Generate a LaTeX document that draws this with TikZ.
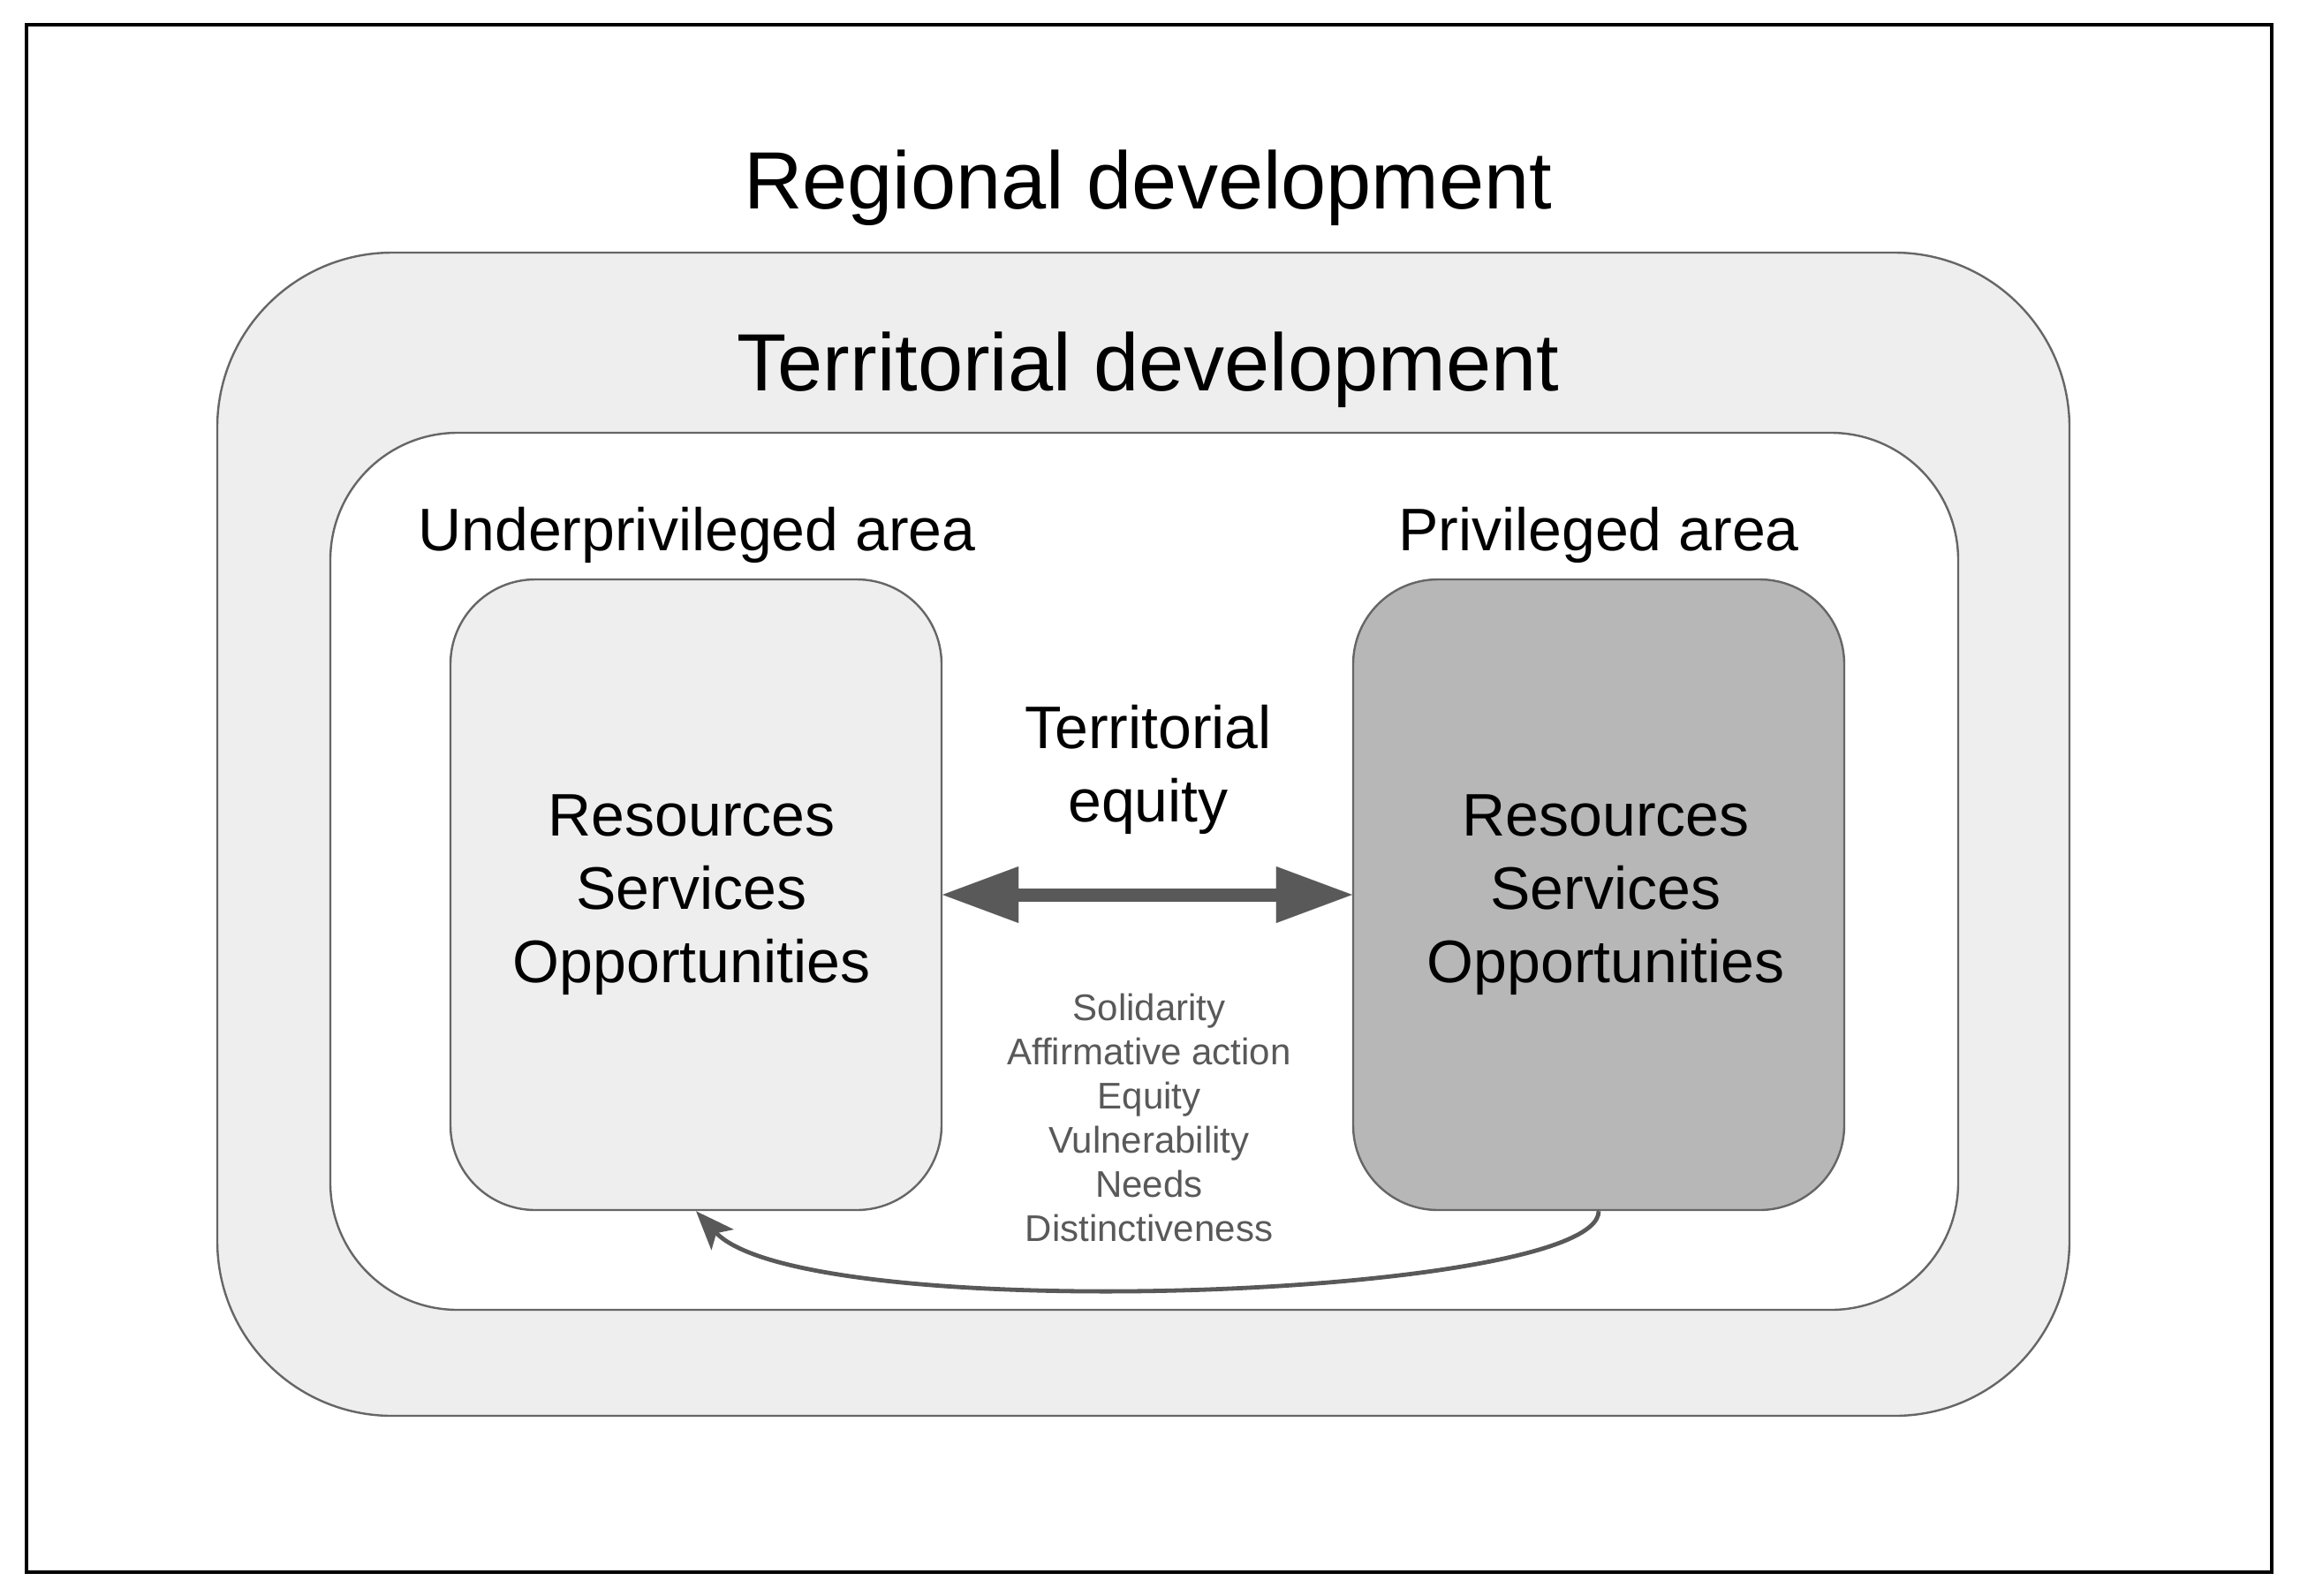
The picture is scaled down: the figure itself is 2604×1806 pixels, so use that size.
\documentclass[tikz,border=0pt]{standalone}
\usepackage{fontspec}
\setmainfont{Liberation Sans}
\usetikzlibrary{arrows.meta}
\definecolor{lgray}{HTML}{EEEEEE}
\definecolor{dgray}{HTML}{B7B7B7}
\definecolor{edgec}{HTML}{666666}
\definecolor{arrowc}{HTML}{595959}
\begin{document}
\begin{tikzpicture}[x=0.5pt,y=-0.5pt,
  framebox/.style={draw=black, line width=1.8pt, inner sep=0pt, minimum width=1271pt, minimum height=876pt},
  terrbox/.style={draw=edgec, fill=lgray, line width=1.2pt, rounded corners=99pt, inner sep=0pt, minimum width=1048.5pt, minimum height=658.5pt},
  innerbox/.style={draw=edgec, fill=white, line width=1.2pt, rounded corners=72pt, inner sep=0pt, minimum width=921.5pt, minimum height=496.5pt},
  areabox/.style={draw=edgec, line width=1.2pt, rounded corners=48pt, inner sep=0pt, minimum width=278pt, minimum height=357pt},
  bigtitle/.style={anchor=base, font=\fontsize{46}{55}\selectfont},
  midtext/.style={font=\fontsize{34}{41.5}\selectfont},
  smalltext/.style={align=center, text=arrowc, font=\fontsize{21}{25}\selectfont},
  dblarrow/.style={draw=arrowc, line width=7.5pt, {Triangle[length=43pt,width=32pt,line width=0.01pt]}-{Triangle[length=43pt,width=32pt,line width=0.01pt]}},
  curvearrow/.style={draw=arrowc, line width=2.4pt, -{Stealth[length=22pt,width=17pt,inset=5pt]}}
]
\useasboundingbox (0,0) rectangle (2604,1806);
\node[framebox] (frame) at (1301,904) {};
\node[terrbox] (terr) at (1294.5,944.5) {};
\node[innerbox] (inner) at (1295.5,986.5) {};
\node[areabox, fill=lgray] (lbox) at (788,1013) {};
\node[areabox, fill=dgray] (rbox) at (1810,1013) {};
\node[midtext, align=center] (ltext) at (783,1013) {Resources\\Services\\Opportunities};
\node[midtext, align=center] (rtext) at (1818,1013) {Resources\\Services\\Opportunities};
\node[bigtitle] (regional) at (1300,236) {Regional development};
\node[bigtitle] (territorial) at (1300,442) {Territorial development};
\node[midtext, anchor=base] (under) at (789,623) {Underprivileged area};
\node[midtext, anchor=base] (priv) at (1810,623) {Privileged area};
\node[midtext, align=center] (equity) at (1300,871) {Territorial\\equity};
\node[smalltext] (values) at (1301,1265) {Solidarity\\Affirmative action\\Equity\\Vulnerability\\Needs\\Distinctiveness};
\draw[dblarrow] (lbox.east) -- (rbox.west);
\draw[curvearrow] (rbox.south) .. controls (1810,1470) and (910,1503) .. (lbox.south);
\end{tikzpicture}
\end{document}
